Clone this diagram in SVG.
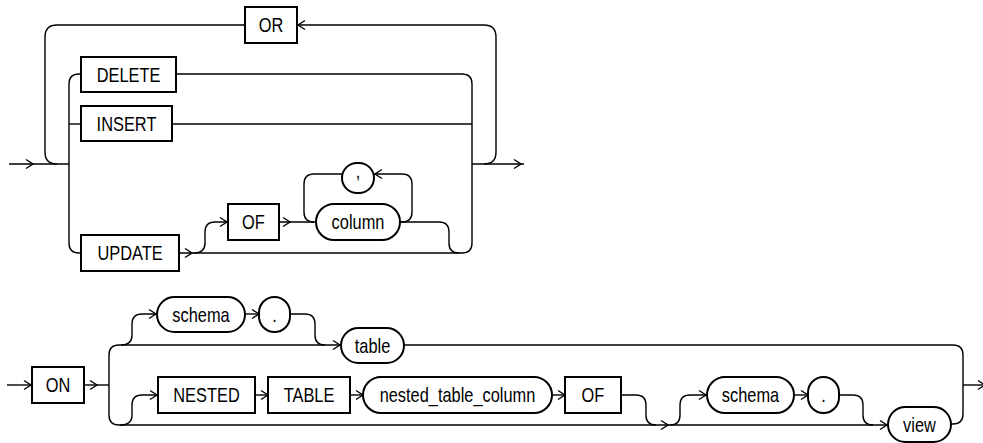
<svg xmlns="http://www.w3.org/2000/svg" xmlns:xlink="http://www.w3.org/1999/xlink" width="983" height="443" viewBox="0 0 983 443">
<style>
.bg{fill:#ffffff}
.ln{fill:none;stroke:#000;stroke-width:1.4}
.bx{fill:#fff;stroke:#000;stroke-width:2}
.ah{fill:none;stroke:#000;stroke-width:1.4}
text{font-family:"Liberation Sans",Arial,sans-serif;font-size:20px;fill:#000;text-anchor:middle}
</style>
<defs>
<path id="ah" class="ah" d="M-7,-4.5 L0,0 L-7,4.5"/>
<path id="ahl" class="ah" d="M7,-4.5 L0,0 L7,4.5"/>
</defs>
<rect class="bg" x="0" y="0" width="983" height="443"/>
<g id="connectors">
<!-- top diagram -->
<path class="ln" d="M9,164 L69,164"/>
<use xlink:href="#ah" x="33" y="164"/>
<path class="ln" d="M57,164 Q45,164 45,152 L45,37 Q45,25 57,25 L245,25"/>
<path class="ln" d="M297,25 L484,25 Q496,25 496,37 L496,152 Q496,164 484,164"/>
<use xlink:href="#ahl" x="298" y="25"/>
<path class="ln" d="M472,164 L524,164"/>
<use xlink:href="#ah" x="521" y="164"/>
<path class="ln" d="M81,74 L79,74 Q69,74 69,84 L69,243 Q69,253 79,253 L81,253"/>
<path class="ln" d="M69,124 L81,124"/>
<path class="ln" d="M176,74 L462,74 Q472,74 472,84 L472,243 Q472,253 462,253 L179,253"/>
<path class="ln" d="M172,124 L472,124"/>
<use xlink:href="#ah" x="192" y="253"/>
<path class="ln" d="M194,253 Q205,253 205,243 L205,232 Q205,222 215,222 L228,222"/>
<use xlink:href="#ah" x="227" y="222"/>
<path class="ln" d="M279,222 L316,222"/>
<use xlink:href="#ah" x="290" y="222"/>
<path class="ln" d="M342,174 L314,174 Q304,174 304,184 L304,212 Q304,222 314,222"/>
<path class="ln" d="M400,222 L402,222 Q412,222 412,212 L412,184 Q412,174 402,174 L374,174"/>
<use xlink:href="#ahl" x="375" y="174"/>
<path class="ln" d="M400,222 L439,222 Q449,222 449,232 L449,243 Q449,253 459,253"/>
<!-- bottom diagram -->
<path class="ln" d="M7,385 L32,385"/>
<use xlink:href="#ah" x="31" y="385"/>
<path class="ln" d="M84,385 L109,385"/>
<use xlink:href="#ah" x="97" y="385"/>
<path class="ln" d="M119,345 Q109,345 109,355 L109,415 Q109,425 119,425"/>
<path class="ln" d="M119,345 L341,345"/>
<use xlink:href="#ah" x="340" y="345"/>
<path class="ln" d="M121,345 Q132,345 132,335 L132,324 Q132,314 142,314 L157,314"/>
<use xlink:href="#ah" x="156" y="314"/>
<path class="ln" d="M245,314 L259,314"/>
<use xlink:href="#ah" x="259" y="314"/>
<path class="ln" d="M290,314 L305,314 Q315,314 315,324 L315,335 Q315,345 325,345"/>
<path class="ln" d="M404,345 L953,345 Q963,345 963,355 L963,414 Q963,424 953,424 L951,424"/>
<path class="ln" d="M963,385 L985,385"/>
<use xlink:href="#ah" x="985" y="385"/>
<path class="ln" d="M119,425 L888,425"/>
<path class="ln" d="M120,425 Q132,425 132,415 L132,405 Q132,395 142,395 L158,395"/>
<use xlink:href="#ah" x="157" y="395"/>
<path class="ln" d="M255,395 L268,395"/>
<use xlink:href="#ah" x="268" y="395"/>
<path class="ln" d="M350,395 L363,395"/>
<use xlink:href="#ah" x="363" y="395"/>
<path class="ln" d="M552,395 L565,395"/>
<use xlink:href="#ah" x="565" y="395"/>
<path class="ln" d="M621,395 L636,395 Q646,395 646,405 L646,415 Q646,425 656,425"/>
<use xlink:href="#ah" x="668" y="425"/>
<path class="ln" d="M670,425 Q680,425 680,415 L680,405 Q680,395 690,395 L707,395"/>
<use xlink:href="#ah" x="706" y="395"/>
<path class="ln" d="M794,395 L808,395"/>
<use xlink:href="#ah" x="808" y="395"/>
<path class="ln" d="M839,395 L853,395 Q863,395 863,405 L863,415 Q863,425 873,425"/>
<use xlink:href="#ah" x="887" y="425"/>
</g>
<g id="n-or"><rect class="bx" x="245" y="7" width="52" height="36"/><text transform="translate(271,32) scale(0.82,1)">OR</text></g>
<g id="n-delete"><rect class="bx" x="81" y="57" width="95" height="35"/><text transform="translate(128.5,81.5) scale(0.82,1)">DELETE</text></g>
<g id="n-insert"><rect class="bx" x="81" y="106" width="91" height="35"/><text transform="translate(126.5,131) scale(0.82,1)">INSERT</text></g>
<g id="n-update"><rect class="bx" x="81" y="235" width="98" height="36"/><text transform="translate(130,260) scale(0.82,1)">UPDATE</text></g>
<g id="n-of1"><rect class="bx" x="228" y="204" width="51" height="36"/><text transform="translate(253.5,229) scale(0.82,1)">OF</text></g>
<g id="n-comma"><rect class="bx" x="342" y="163" width="32" height="30" rx="15" ry="15"/><text transform="translate(358,178) scale(0.82,1)">,</text></g>
<g id="n-column"><rect class="bx" x="316" y="204" width="84" height="36" rx="18" ry="18"/><text transform="translate(358,229) scale(0.82,1)">column</text></g>
<g id="n-on"><rect class="bx" x="32" y="367" width="52" height="36"/><text transform="translate(58,392) scale(0.82,1)">ON</text></g>
<g id="n-schema1"><rect class="bx" x="157" y="297" width="88" height="35" rx="17.5" ry="17.5"/><text transform="translate(201,321.5) scale(0.82,1)">schema</text></g>
<g id="n-dot1"><rect class="bx" x="259" y="297" width="31" height="35" rx="15.5" ry="15.5"/><text transform="translate(274.5,321.5) scale(0.82,1)">.</text></g>
<g id="n-table"><rect class="bx" x="341" y="328" width="63" height="35" rx="17.5" ry="17.5"/><text transform="translate(372.5,352.5) scale(0.82,1)">table</text></g>
<g id="n-nested"><rect class="bx" x="158" y="377" width="97" height="36"/><text transform="translate(206.5,402) scale(0.82,1)">NESTED</text></g>
<g id="n-tablekw"><rect class="bx" x="268" y="377" width="82" height="36"/><text transform="translate(309,402) scale(0.82,1)">TABLE</text></g>
<g id="n-ntc"><rect class="bx" x="363" y="377" width="189" height="36" rx="18" ry="18"/><text transform="translate(457.5,402) scale(0.82,1)">nested_table_column</text></g>
<g id="n-of2"><rect class="bx" x="565" y="377" width="56" height="36"/><text transform="translate(593,402) scale(0.82,1)">OF</text></g>
<g id="n-schema2"><rect class="bx" x="707" y="377" width="87" height="36" rx="18" ry="18"/><text transform="translate(750.5,402) scale(0.82,1)">schema</text></g>
<g id="n-dot2"><rect class="bx" x="808" y="377" width="31" height="36" rx="15.5" ry="15.5"/><text transform="translate(823.5,402) scale(0.82,1)">.</text></g>
<g id="n-view"><rect class="bx" x="888" y="407" width="63" height="35" rx="17.5" ry="17.5"/><text transform="translate(919.5,431.5) scale(0.82,1)">view</text></g>
</svg>
